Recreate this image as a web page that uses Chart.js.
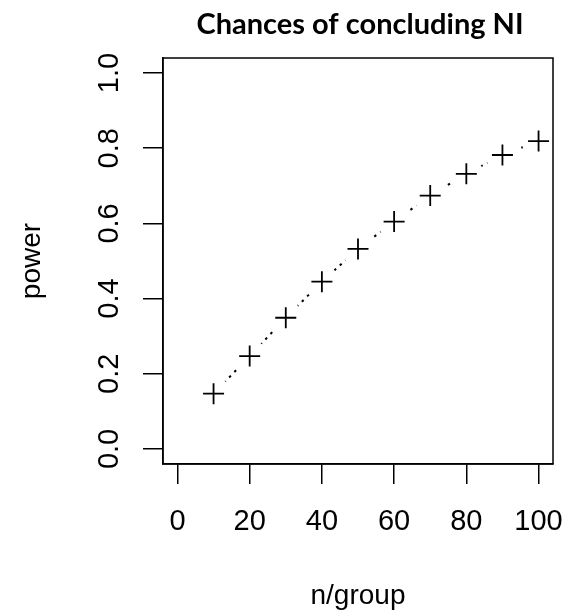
<!DOCTYPE html>
<html>
<head>
<meta charset="utf-8">
<script src="https://cdn.jsdelivr.net/npm/chart.js@4.4.1/dist/chart.umd.min.js"></script>
<style>
  body { margin: 0; background: #fff; }
  #wrap { width: 570px; height: 615px; position: relative; }
</style>
</head>
<body>
<div id="wrap"><canvas id="power"></canvas></div>
<script>
const nPerGroup   = [10, 20, 30, 40, 50, 60, 70, 80, 90, 100]
const power       = [0.147, 0.247, 0.349, 0.445, 0.532, 0.605, 0.674, 0.732, 0.782, 0.819]
const xTicks      = [0, 20, 40, 60, 80, 100]
const xTickLabels = ['0', '20', '40', '60', '80', '100']
const yTicks      = [0, 0.2, 0.4, 0.6, 0.8, 1]
const yTickLabels = ['0.0', '0.2', '0.4', '0.6', '0.8', '1.0']

const points = nPerGroup.map((n, i) => ({ x: n, y: power[i] }))

const sans      = "'Liberation Sans', Arial, sans-serif"
const tickFont  = { family: sans, size: 29 }
const labelFont = { family: sans, size: 28 }
const black     = '#000'

// base R look: box round the plot, main title, y tick labels turned along the axis
const rPlot = {
  id: 'rPlot',
  afterDraw(chart) {
    const { ctx, chartArea: a, scales } = chart
    ctx.save()
    ctx.strokeStyle = black
    ctx.lineWidth = 1.5
    ctx.strokeRect(a.left, a.top, a.right - a.left, a.bottom - a.top)

    ctx.fillStyle = black
    ctx.textAlign = 'center'
    ctx.textBaseline = 'alphabetic'
    ctx.font = 'bold 29px Lato'
    ctx.fillText('Chances of concluding NI', (a.left + a.right) / 2 + 2, 34)

    const y = scales.y
    ctx.font = tickFont.size + 'px ' + sans
    y.ticks.forEach((t, i) => {
      ctx.save()
      ctx.translate(y.right - 45, y.getPixelForValue(t.value))
      ctx.rotate(-Math.PI / 2)
      ctx.fillText(yTickLabels[i], 0, 0)
      ctx.restore()
    })
    ctx.restore()
  }
}

const axisLines = {
  grid: { drawOnChartArea: false, drawTicks: true, tickLength: 20, color: black, lineWidth: 1.5 },
  border: { display: true, color: black, width: 1.5 }
}

new Chart(document.getElementById('power'), {
  type: 'scatter',
  data: {
    datasets: [
      // the + marks
      { data: points, showLine: false, pointStyle: 'cross', pointRadius: 10.5,
        pointBorderWidth: 1.8, pointBorderColor: black, pointHoverRadius: 10.5 },
      // white gap round each mark, as type = "b" leaves it
      { data: points, showLine: false, pointStyle: 'circle', pointRadius: 17,
        pointBackgroundColor: '#fff', pointBorderWidth: 0, pointHoverRadius: 17 },
      // dotted joining line
      { data: points, showLine: true, borderColor: black, borderWidth: 2,
        borderDash: [2.5, 5], pointRadius: 0, pointHoverRadius: 0, tension: 0, fill: false }
    ]
  },
  options: {
    responsive: true,
    maintainAspectRatio: false,
    animation: false,
    events: [],
    layout: { padding: { top: 58, right: 17, bottom: 0, left: 0 } },
    plugins: {
      legend: { display: false },
      tooltip: { enabled: false },
      title: { display: false }
    },
    scales: {
      x: {
        type: 'linear',
        min: -4,
        max: 104,
        ...axisLines,
        afterBuildTicks: s => { s.ticks = xTicks.map(v => ({ value: v })) },
        afterFit: s => { s.height = 151; s.paddingLeft = 0; s.paddingRight = 0 },
        ticks: {
          font: tickFont, color: black, padding: 21, maxRotation: 0, autoSkip: false,
          callback: (v, i) => xTickLabels[i]
        },
        title: { display: true, text: 'n/group', font: labelFont, color: black, padding: { top: 0, bottom: 2 } }
      },
      y: {
        type: 'linear',
        min: -0.04,
        max: 1.04,
        ...axisLines,
        afterBuildTicks: s => { s.ticks = yTicks.map(v => ({ value: v })) },
        afterFit: s => { s.width = 163; s.paddingTop = 0; s.paddingBottom = 0 },
        ticks: { display: false },
        title: { display: true, text: 'power', font: labelFont, color: black, padding: { top: 15, bottom: 0 } }
      }
    }
  },
  plugins: [rPlot]
})
</script>
</body>
</html>
